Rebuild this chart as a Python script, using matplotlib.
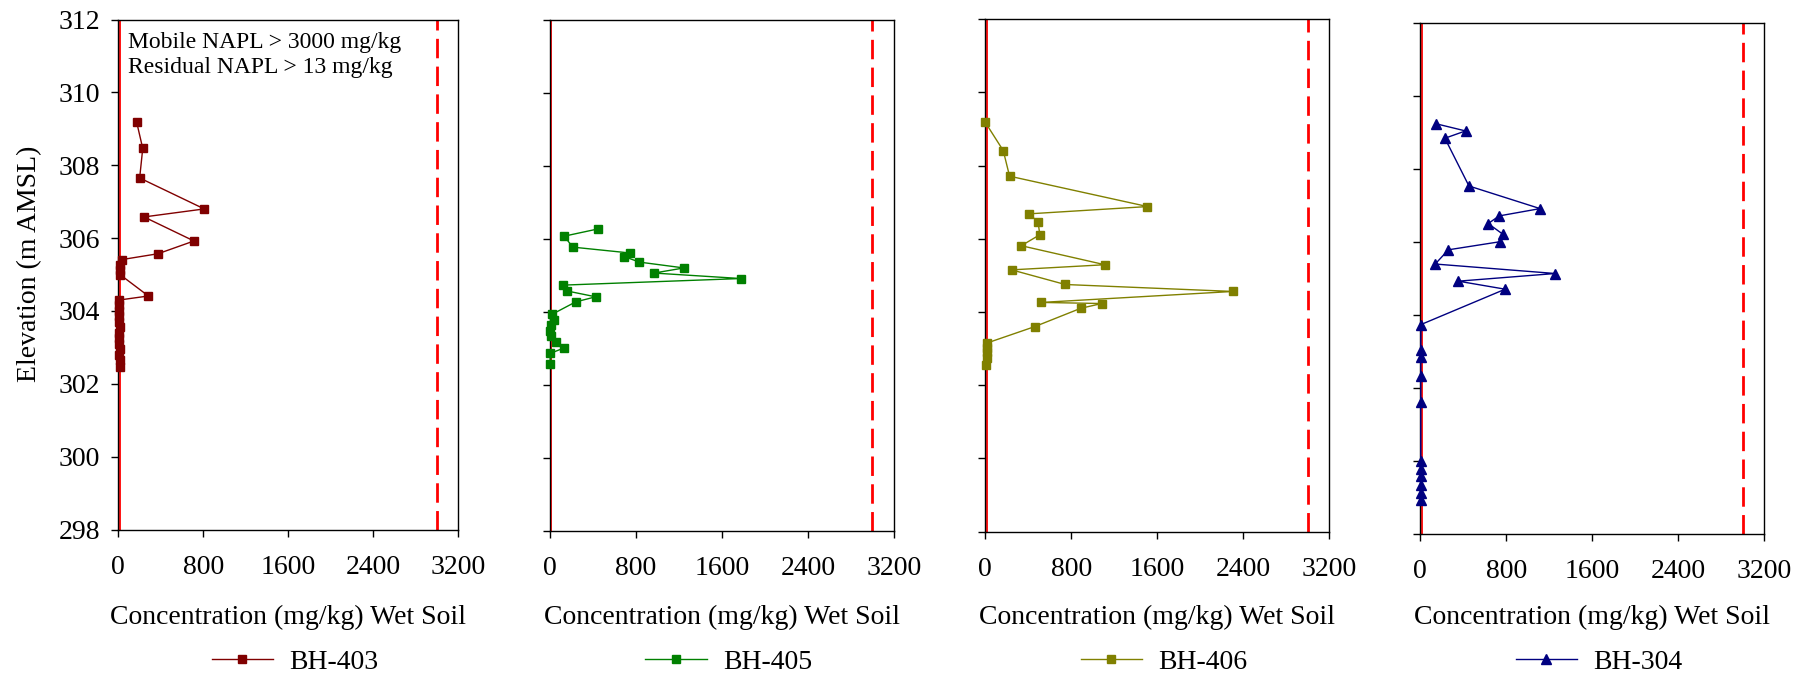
import matplotlib
matplotlib.use("Agg")
import matplotlib.pyplot as plt

plt.rcParams['font.family'] = ['Liberation Serif', 'DejaVu Serif']

# borehole profiles: elevation (m AMSL) and concentration (mg/kg wet soil)
bh403_elev = [309.18, 308.46, 307.65, 306.80, 306.58, 305.92, 305.57, 305.41, 305.25, 305.12,
              305.00, 304.41, 304.30, 304.15, 304.00, 303.85, 303.70, 303.55, 303.40, 303.25,
              303.10, 302.95, 302.80, 302.65, 302.46]
bh403_conc = [173, 230, 201, 809, 242, 712, 374, 35, 20, 12,
              15, 283, 10, 8, 10, 8, 10, 12, 10, 8,
              10, 12, 10, 15, 12]

bh405_elev = [306.27, 306.07, 305.77, 305.61, 305.51, 305.36, 305.20, 305.06, 304.91, 304.73,
              304.57, 304.41, 304.27, 303.93, 303.77, 303.64, 303.47, 303.34, 303.17, 303.01,
              302.86, 302.56]
bh405_conc = [450, 133, 211, 741, 692, 831, 1246, 967, 1777, 124,
              158, 425, 238, 19, 38, 6, 2, 6, 53, 130,
              2, 2]

bh406_elev = [309.18, 308.41, 307.71, 306.88, 306.68, 306.47, 306.11, 305.81, 305.29, 305.15,
              304.75, 304.56, 304.26, 304.23, 304.10, 303.60, 303.15, 303.02, 302.90, 302.75,
              302.55]
bh406_conc = [0, 167, 226, 1510, 403, 490, 508, 335, 1113, 245,
              744, 2306, 521, 1085, 889, 461, 15, 18, 15, 12,
              5]

bh304_elev = [309.24, 309.04, 308.84, 307.53, 306.91, 306.71, 306.50, 306.20, 306.00, 305.78,
              305.39, 305.13, 304.92, 304.70, 303.73, 303.03, 302.83, 302.32, 301.61, 299.98,
              299.77, 299.58, 299.32, 299.11, 298.91]
bh304_conc = [142, 421, 229, 453, 1115, 735, 632, 772, 738, 261,
              139, 1256, 354, 790, 6, 4, 4, 4, 4, 4,
              4, 4, 4, 4, 4]

names = ["BH-403", "BH-405", "BH-406", "BH-304"]
colors = ["#800000", "#008000", "#808000", "#000080"]
markers = ["s", "s", "s", "^"]
profiles = [(bh403_conc, bh403_elev), (bh405_conc, bh405_elev),
            (bh406_conc, bh406_elev), (bh304_conc, bh304_elev)]

mobile_napl = 3000
residual_napl = 13
x_ticks = [0, 800, 1600, 2400, 3200]
y_ticks = list(range(298, 313, 2))

W, H = 1812, 680
# panel boxes in pixels: left, right, top, bottom
boxes = [(118.3, 458.3, 19.5, 529.5),
         (550.0, 894.0, 19.5, 531.0),
         (985.3, 1329.0, 19.2, 531.5),
         (1420.3, 1764.0, 23.0, 533.5)]

fs = 20

fig = plt.figure(figsize=(W / 100, H / 100), dpi=100)

for i, (name, col, mk, (conc, elev), box) in enumerate(zip(names, colors, markers, profiles, boxes)):
    l, r, t, b = box
    ax = fig.add_axes([l / W, 1 - b / H, (r - l) / W, (b - t) / H])
    ax.axvline(residual_napl, color="red", lw=1.3, zorder=1)
    ax.axvline(mobile_napl, color="red", lw=2.0, dashes=(7, 3), zorder=1)
    ms = 7.5 if mk == "^" else 5.5
    ax.plot(conc, elev, color=col, lw=1.0, marker=mk, ms=ms, mec=col, mfc=col,
            label=name, zorder=3, clip_on=False)
    ax.set_xlim(0, 3200)
    ax.set_ylim(298, 312)
    ax.set_xticks(x_ticks)
    ax.set_yticks(y_ticks)
    ax.tick_params(direction="out", length=5, width=1, labelsize=fs)
    ax.tick_params(axis="x", pad=13)
    ax.tick_params(axis="y", pad=8)
    for sp in ax.spines.values():
        sp.set_linewidth(1.0)
    ax.set_xlabel("Concentration (mg/kg) Wet Soil", fontsize=fs)
    # x label and legend share one baseline across all panels
    cx = (l + r) / 2 / W
    ax.xaxis.set_label_coords(cx, 1 - 605 / H, transform=fig.transFigure)
    if i == 0:
        ax.set_ylabel("Elevation (m AMSL)", fontsize=fs)
        ax.yaxis.set_label_coords(-0.225, 0.52)
        ax.text(0.03, 0.975, "Mobile NAPL > 3000 mg/kg\nResidual NAPL > 13 mg/kg",
                transform=ax.transAxes, ha="left", va="top", fontsize=17,
                linespacing=1.25)
    else:
        ax.set_yticklabels([])
    ax.legend(loc="center", bbox_to_anchor=((l + 0.52 * (r - l)) / W, 1 - 662 / H),
              bbox_transform=fig.transFigure, frameon=False,
              fontsize=fs, handlelength=2.2, handletextpad=0.6,
              borderpad=0, borderaxespad=0)

fig.savefig("out.png", dpi=100)
